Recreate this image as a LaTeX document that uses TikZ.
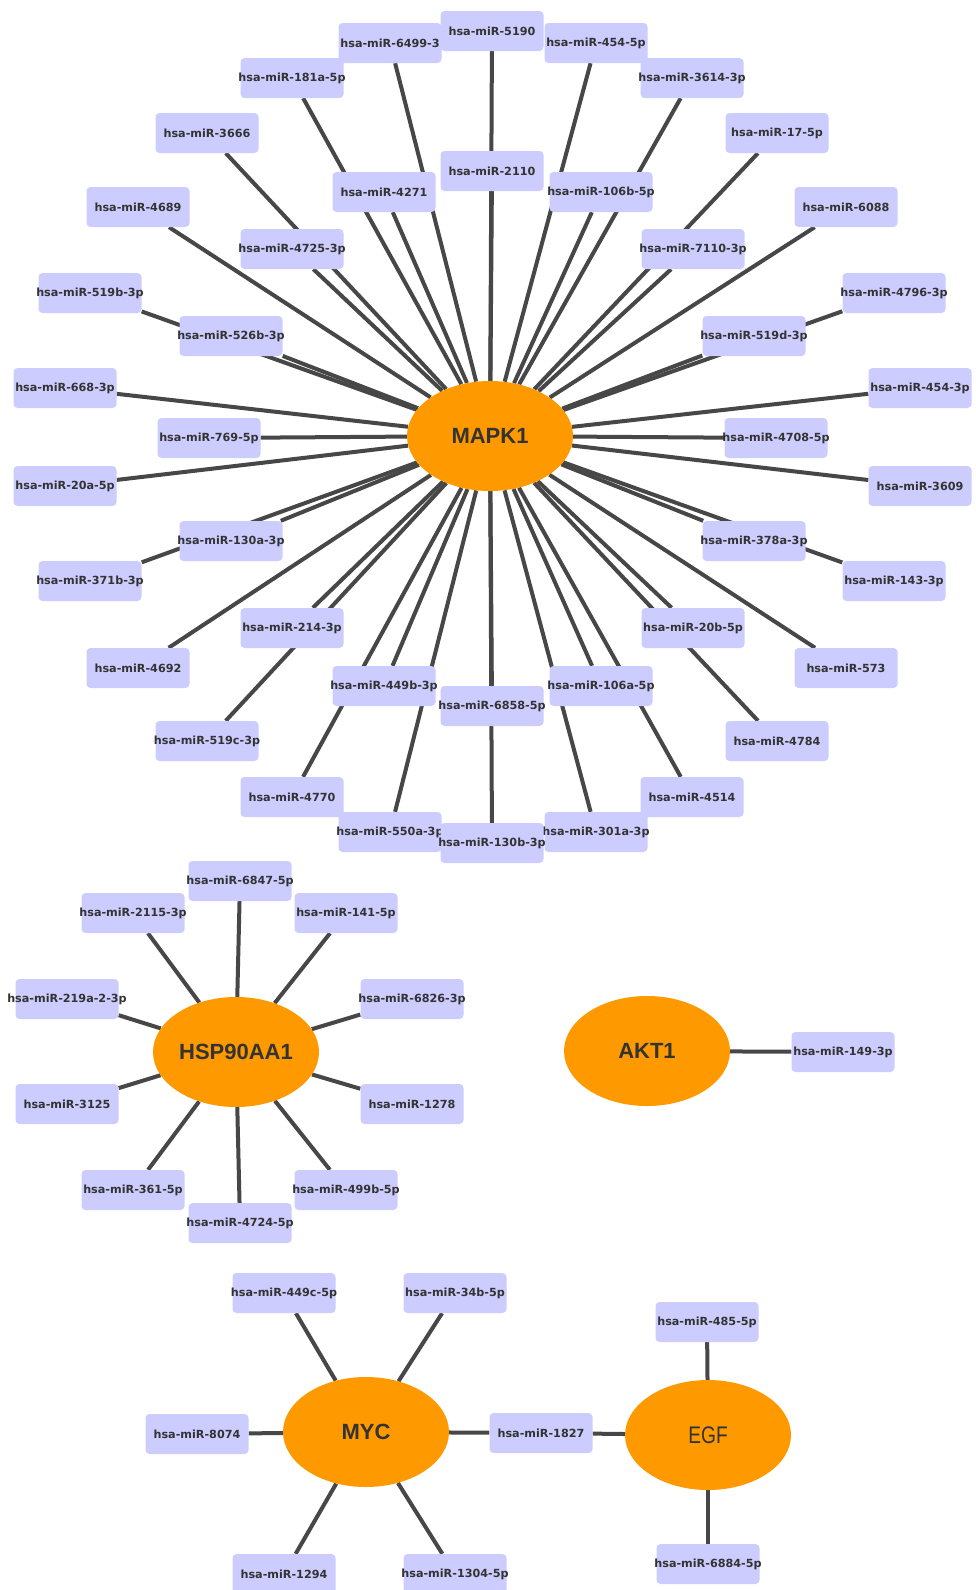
\documentclass[tikz,border=0pt]{standalone}
\usepackage{fontspec}
\newfontfamily\mirfont{DejaVu Sans}
\newfontfamily\hubfont{Liberation Sans}
\usetikzlibrary{shapes.geometric,backgrounds}
\definecolor{mirfill}{HTML}{CCCCFF}
\definecolor{hubfill}{HTML}{FF9900}
\definecolor{edgec}{HTML}{474747}
\definecolor{txtc}{HTML}{333333}
\newcommand{\mirlabel}[1]{\makebox[0pt][c]{#1}}
\tikzset{
  mir/.style={rectangle, rounded corners=4pt, fill=mirfill, minimum width=103pt,
    minimum height=40pt, inner sep=0pt, text=txtc,
    font=\mirfont\bfseries\fontsize{11.2}{13}\selectfont},
  hub/.style={ellipse, fill=hubfill, minimum width=166pt, minimum height=110pt,
    inner sep=0pt, text=txtc, font=\hubfont\bfseries\fontsize{22}{26}\selectfont},
  link/.style={line width=4pt, draw=edgec},
}
\begin{document}
\begin{tikzpicture}[x=1pt,y=-1pt]
\useasboundingbox (0,0) rectangle (975,1590);
% hubs
\node[hub] (MAPK1) at (490,436) {MAPK1};
\node[hub] (HSP) at (236,1052) {HSP90AA1};
\node[hub] (AKT1) at (647,1051) {AKT1};
\node[hub] (MYC) at (366,1432) {MYC};
\node[hub, font=\hubfont\fontsize{24}{28}\selectfont] (EGF) at (708,1435) {\scalebox{0.8}[1]{EGF}};
% MAPK1 targets
\foreach \n/\x/\y/\t in {
  m5190/492/31/hsa-miR-5190,
  m6499/390/43/hsa-miR-6499-3,
  m454b/596/43/hsa-miR-454-5p,
  m181a/292/78/hsa-miR-181a-5p,
  m3614/692/78/hsa-miR-3614-3p,
  m3666/207/133/hsa-miR-3666,
  m17/777/133/hsa-miR-17-5p,
  m2110/492/171/hsa-miR-2110,
  m4271/384/192/hsa-miR-4271,
  m106b/601/192/hsa-miR-106b-5p,
  m4689/138/207/hsa-miR-4689,
  m6088/846/207/hsa-miR-6088,
  m4725/292/249/hsa-miR-4725-3p,
  m7110/693/249/hsa-miR-7110-3p,
  m519b/90/293/hsa-miR-519b-3p,
  m4796/894/293/hsa-miR-4796-3p,
  m526b/231/336/hsa-miR-526b-3p,
  m519d/754/336/hsa-miR-519d-3p,
  m668/65/388/hsa-miR-668-3p,
  m454a/920/388/hsa-miR-454-3p,
  m769/209/438/hsa-miR-769-5p,
  m4708/776/438/hsa-miR-4708-5p,
  m20a/65/486/hsa-miR-20a-5p,
  m3609/920/486/hsa-miR-3609,
  m130a/231/541/hsa-miR-130a-3p,
  m378a/754/541/hsa-miR-378a-3p,
  m371b/90/581/hsa-miR-371b-3p,
  m143/894/581/hsa-miR-143-3p,
  m214/292/628/hsa-miR-214-3p,
  m20b/693/628/hsa-miR-20b-5p,
  m4692/138/668/hsa-miR-4692,
  m573/846/668/hsa-miR-573,
  m449b/384/686/hsa-miR-449b-3p,
  m106a/601/686/hsa-miR-106a-5p,
  m6858/492/706/hsa-miR-6858-5p,
  m519c/207/741/hsa-miR-519c-3p,
  m4784/777/741/hsa-miR-4784,
  m4770/292/797/hsa-miR-4770,
  m4514/692/797/hsa-miR-4514,
  m550a/390/832/hsa-miR-550a-3p,
  m301a/596/832/hsa-miR-301a-3p,
  m130b/492/843/hsa-miR-130b-3p}
  \node[mir] (\n) at (\x,\y) {\mirlabel{\t}};
% HSP90AA1 targets
\foreach \n/\x/\y/\t in {
  h6847/240/881/hsa-miR-6847-5p,
  h2115/133/913/hsa-miR-2115-3p,
  h141/346/913/hsa-miR-141-5p,
  h219a/67/999/hsa-miR-219a-2-3p,
  h6826/412/999/hsa-miR-6826-3p,
  h3125/67/1104/hsa-miR-3125,
  h1278/412/1104/hsa-miR-1278,
  h361/133/1190/hsa-miR-361-5p,
  h499b/346/1190/hsa-miR-499b-5p,
  h4724/240/1223/hsa-miR-4724-5p}
  \node[mir] (\n) at (\x,\y) {\mirlabel{\t}};
% AKT1 target
\node[mir] (a149) at (843,1052) {\mirlabel{hsa-miR-149-3p}};
% MYC / EGF targets
\foreach \n/\x/\y/\t in {
  y449c/284/1293/hsa-miR-449c-5p,
  y34b/455/1293/hsa-miR-34b-5p,
  y8074/197/1434/hsa-miR-8074,
  y1827/541/1433/hsa-miR-1827,
  y1294/284/1574/hsa-miR-1294,
  y1304/455/1574/hsa-miR-1304-5p,
  e485/707/1322/hsa-miR-485-5p,
  e6884/708/1564/hsa-miR-6884-5p}
  \node[mir] (\n) at (\x,\y) {\mirlabel{\t}};
% edges
\begin{pgfonlayer}{background}
\fill[white] (0,0) rectangle (975,1590);
\foreach \n in {m5190,m6499,m454b,m181a,m3614,m3666,m17,m2110,m4271,m106b,
  m4689,m6088,m4725,m7110,m519b,m4796,m526b,m519d,m668,m454a,m769,m4708,
  m20a,m3609,m130a,m378a,m371b,m143,m214,m20b,m4692,m573,m449b,m106a,
  m6858,m519c,m4784,m4770,m4514,m550a,m301a,m130b}
  \draw[link] (\n) -- (MAPK1);
\foreach \n in {h6847,h2115,h141,h219a,h6826,h3125,h1278,h361,h499b,h4724}
  \draw[link] (\n) -- (HSP);
\draw[link] (a149) -- (AKT1);
\foreach \n in {y449c,y34b,y8074,y1827,y1294,y1304}
  \draw[link] (\n) -- (MYC);
\foreach \n in {e485,y1827,e6884}
  \draw[link] (\n) -- (EGF);
\end{pgfonlayer}
\end{tikzpicture}
\end{document}
